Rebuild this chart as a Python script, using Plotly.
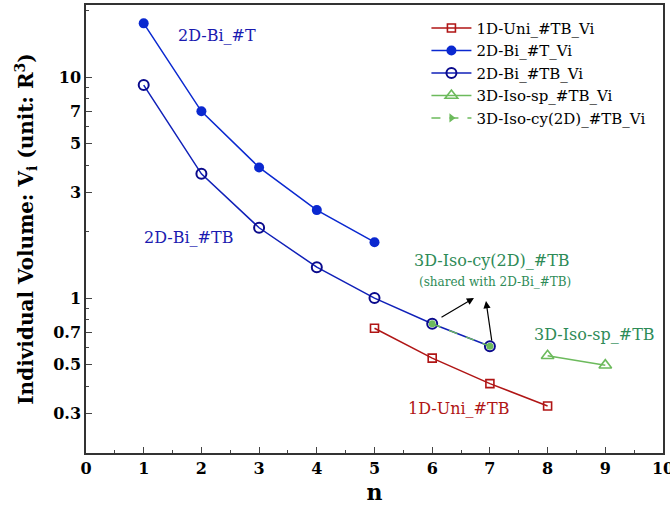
import plotly.graph_objects as go
import math

# Number of cells n and individual volume V_i (unit R^3)
n_uni = [5, 6, 7, 8]
v_uni = [0.73, 0.535, 0.41, 0.325]

n_bi_t = [1, 2, 3, 4, 5]
v_bi_t = [17.5, 7.0, 3.9, 2.5, 1.79]

n_bi_tb = [1, 2, 3, 4, 5, 6, 7]
v_bi_tb = [9.2, 3.65, 2.08, 1.38, 1.0, 0.765, 0.605]

n_iso_sp = [8, 9]
v_iso_sp = [0.548, 0.497]

n_iso_cy = [6, 7]
v_iso_cy = [0.765, 0.605]

x_ticks = list(range(0, 11))
y_ticks = [0.3, 0.5, 0.7, 1, 3, 5, 7, 10]
y_ticklabels = ["0.3", "0.5", "0.7", "1", "3", "5", "7", "10"]

SERIF = "DejaVu Serif"
RED = "#b01515"
BLUE = "#0a28d0"
NAVY = "#0a0a8c"
LGREEN = "#6cba5c"
TGREEN = "#2e8b57"

fig = go.Figure()

fig.add_trace(go.Scatter(
    x=n_uni, y=v_uni, mode="lines+markers", name="1D-Uni_#TB_Vi",
    line=dict(color=RED, width=1.5),
    marker=dict(symbol="square-open", size=8, color=RED, line=dict(width=1.6)),
))
fig.add_trace(go.Scatter(
    x=n_bi_t, y=v_bi_t, mode="lines+markers", name="2D-Bi_#T_Vi",
    line=dict(color=BLUE, width=1.5),
    marker=dict(symbol="circle", size=10, color=BLUE),
))
fig.add_trace(go.Scatter(
    x=n_bi_tb, y=v_bi_tb, mode="lines+markers", name="2D-Bi_#TB_Vi",
    line=dict(color="#1020b8", width=1.5),
    marker=dict(symbol="circle-open", size=10, color=NAVY, line=dict(width=2)),
))
fig.add_trace(go.Scatter(
    x=n_iso_sp, y=v_iso_sp, mode="lines+markers", name="3D-Iso-sp_#TB_Vi",
    line=dict(color=LGREEN, width=1.5),
    marker=dict(symbol="triangle-up-open", size=11, color=LGREEN, line=dict(width=1.6)),
))
# cylinder series shares its points with 2D-Bi_#TB
fig.add_trace(go.Scatter(
    x=n_iso_cy, y=v_iso_cy, mode="lines+markers", showlegend=False,
    line=dict(color=LGREEN, width=1.5, dash="dash"),
    marker=dict(symbol="circle", size=7, color=LGREEN),
))
fig.add_trace(go.Scatter(
    x=[None], y=[None], mode="lines+markers", name="3D-Iso-cy(2D)_#TB_Vi",
    line=dict(color=LGREEN, width=1.5, dash="dash"),
    marker=dict(symbol="triangle-right", size=8, color=LGREEN),
))

def lg(v):
    return math.log10(v)

annots = [
    dict(x=2.27, y=1.19, text="2D-Bi_#T", color="#1a1ab0", size=16),
    dict(x=1.77, y=0.276, text="2D-Bi_#TB", color="#1a1ab0", size=16),
    dict(x=7.03, y=0.169, text="3D-Iso-cy(2D)_#TB", color=TGREEN, size=16),
    dict(x=7.09, y=0.074, text="(shared with 2D-Bi_#TB)", color=TGREEN, size=12),
    dict(x=8.82, y=-0.167, text="3D-Iso-sp_#TB", color=TGREEN, size=16),
    dict(x=6.45, y=-0.498, text="1D-Uni_#TB", color=RED, size=16),
]
for a in annots:
    fig.add_annotation(x=a["x"], y=a["y"], xref="x", yref="y", text=a["text"],
                       showarrow=False, font=dict(family=SERIF, size=a["size"], color=a["color"]))

# arrows pointing from the shared points to their label
for (tx, ty, hx, hy) in [(6.135, lg(0.812), 6.724, lg(1.0)), (7.036, lg(0.632), 6.932, lg(0.969))]:
    fig.add_annotation(x=hx, y=hy, ax=tx, ay=ty, xref="x", yref="y", axref="x", ayref="y",
                       text="", showarrow=True, arrowhead=2, arrowsize=1.2, arrowwidth=1.2,
                       arrowcolor="black")

fig.update_layout(
    width=670, height=510,
    margin=dict(l=86, r=7, t=5, b=57),
    paper_bgcolor="white", plot_bgcolor="white",
    font=dict(family=SERIF, color="black"),
    legend=dict(x=0.59, y=0.985, xanchor="left", yanchor="top",
                bgcolor="rgba(0,0,0,0)", font=dict(family=SERIF, size=15),
                tracegroupgap=0, itemwidth=40),
    xaxis=dict(
        range=[0, 10], tickvals=x_ticks, ticks="inside", ticklen=6, tickwidth=1,
        minor=dict(dtick=0.5, ticks="inside", ticklen=3, tickwidth=1),
        showline=True, linecolor="#333", linewidth=1.5, mirror=True,
        showgrid=False, zeroline=False, ticklabeloverflow="allow", automargin=False,
        tickfont=dict(family=SERIF, size=16, color="black", weight="bold"),
        title=dict(text="<b>n</b>", font=dict(family=SERIF, size=22), standoff=8),
    ),
    yaxis=dict(
        type="log", range=[-0.701, 1.326], automargin=False,
        tickvals=y_ticks, ticktext=y_ticklabels, ticks="inside", ticklen=6, tickwidth=1,
        minor=dict(tickvals=[0.2, 0.4, 0.6, 0.8, 0.9, 2, 4, 6, 8, 9, 20],
                   ticks="inside", ticklen=3, tickwidth=1),
        showline=True, linecolor="#333", linewidth=1.5, mirror=True,
        showgrid=False, zeroline=False,
        tickfont=dict(family=SERIF, size=16, color="black", weight="bold"),
        title=dict(text="<b>Individual Volume: V<sub>i</sub> (unit: R<sup>3</sup>)</b>",
                   font=dict(family=SERIF, size=20), standoff=14),
    ),
)

fig.write_html("out.html")
